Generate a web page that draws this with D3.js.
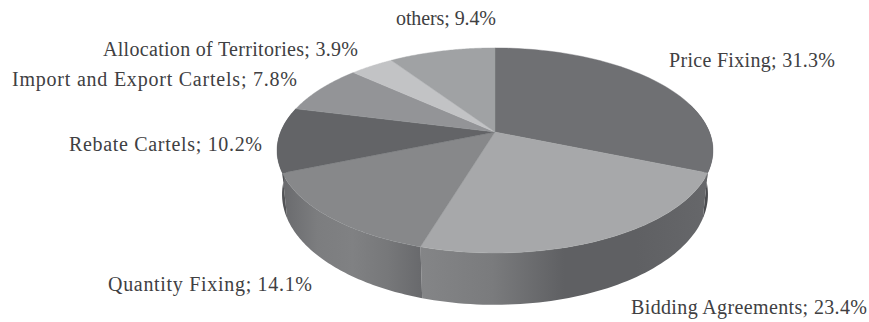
<!DOCTYPE html>
<html><head><meta charset="utf-8">
<script src="https://cdn.jsdelivr.net/npm/d3@7"></script>
<style>html,body{margin:0;background:#fff}svg{display:block}text{font-family:"Liberation Serif",serif;fill:#404042}</style>
</head><body><svg id="c" width="869" height="322"></svg>
<script>
const categories = ["Price Fixing","Bidding Agreements","Quantity Fixing","Rebate Cartels","Import and Export Cartels","Allocation of Territories","others"];
const shares = [31.3,23.4,14.1,10.2,7.8,3.9,9.4];
const topColors = ["#6f7073","#a7a8aa","#87888a","#636467","#939497","#c2c3c5","#a0a2a4"];
const sideStops = [["#55565a","#47484b"],["#848587","#7a7b7d","#5f6063","#5f6063","#66676a"],["#696a6d","#7c7d7f","#808183","#77787a","#68696c"],["#4e4f52","#5a5b5e"]];
const labelLefts = [669,631,108,69,12,103,396];
const labelBaselines = [67,314,291,151,86,56,25];
const labelWidths = [166,236,204,193,285,255,100];

const svg = d3.select("#c");
const pie = d3.pie().sort(null).value(d => d);
const arcs = pie(shares);

// Perspective projection of the pie's top disc and of its lower rim
const cx = 495, cy = 132, A = 214.4, B = 99.2, k = 0.18, D = 42.5;
const project = t => { const u = Math.sin(t), v = -Math.cos(t), w = 1 - k * v; return [cx + A * u / w, cy + B * v / w]; };
const projectLow = t => { const u = Math.sin(t), v = -Math.cos(t), w = 1 - k * v; return [cx + 0.977 * A * u / w, cy + B * v / w + D / w]; };
const line = d3.line();
const samples = (a, b, f) => d3.range(0, 61).map(i => f(a + (b - a) * i / 60));

const defs = svg.append("defs");
const visFrom = Math.PI / 2 - 0.3, visTo = 3 * Math.PI / 2 + 0.3;

// Side wall, painted slice by slice with a horizontal shading ramp running left to right
arcs.forEach((d, i) => {
  const a = Math.max(d.startAngle, visFrom), b = Math.min(d.endAngle, visTo);
  if (a >= b || !sideStops[i]) return;
  const up = samples(a, b, project), low = samples(a, b, projectLow).reverse();
  const xs = up.concat(low).map(p => p[0]);
  const g = defs.append("linearGradient").attr("id", "side" + i).attr("gradientUnits", "userSpaceOnUse")
    .attr("x1", d3.min(xs)).attr("x2", d3.max(xs)).attr("y1", 0).attr("y2", 0);
  sideStops[i].forEach((c, j) => g.append("stop").attr("offset", j / (sideStops[i].length - 1)).attr("stop-color", c));
  svg.append("path").attr("d", line(up.concat(low)) + "Z").attr("fill", `url(#side${i})`);
});

// Top disc
arcs.forEach((d, i) => {
  svg.append("path").attr("d", line([[cx, cy]].concat(samples(d.startAngle, d.endAngle, project))) + "Z")
    .attr("fill", topColors[i]).attr("stroke", topColors[i]).attr("stroke-width", 0.4);
});

// Category labels
categories.forEach((c, i) => {
  svg.append("text").attr("x", labelLefts[i]).attr("y", labelBaselines[i]).attr("font-size", 20)
    .attr("textLength", labelWidths[i]).attr("lengthAdjust", "spacing")
    .text(`${c}; ${shares[i]}%`);
});
</script></body></html>
